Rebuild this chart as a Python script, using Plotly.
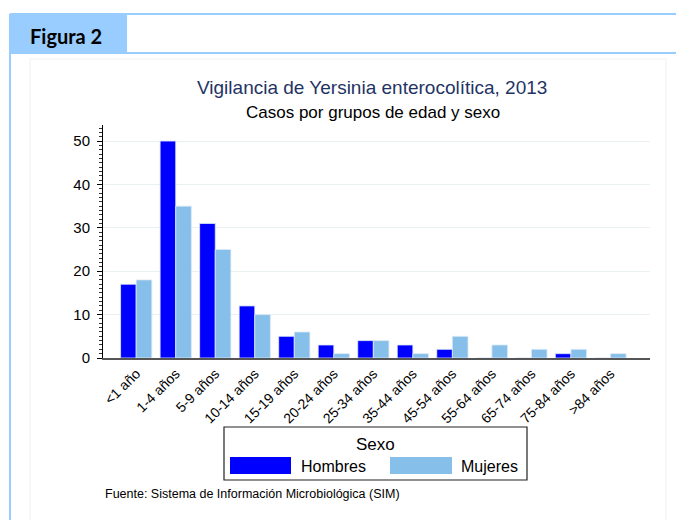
import plotly.graph_objects as go

categorias = ["<1 año", "1-4 años", "5-9 años", "10-14 años", "15-19 años", "20-24 años",
              "25-34 años", "35-44 años", "45-54 años", "55-64 años", "65-74 años",
              "75-84 años", ">84 años"]
hombres = [17, 50, 31, 12, 5, 3, 4, 3, 2, 0, 0, 1, 0]
mujeres = [18, 35, 25, 10, 6, 1, 4, 1, 5, 3, 2, 2, 1]
y_ticks = [0, 10, 20, 30, 40, 50]

OFF = 8  # default page margin of the html body
W, H = 684 - OFF, 520 - OFF
L, T = 103 - OFF, 125 - OFF
R = W - (650 - OFF)
B = H - (358 - OFF)
PW, PH = W - L - R, H - T - B

def px(x):
    return (x - OFF - L) / PW

def py(y):
    return (H - B - (y - OFF)) / PH

C_H = "#0000FF"
C_M = "#86BFE9"
FONT = "Liberation Sans, Arial, sans-serif"

fig = go.Figure()
fig.add_trace(go.Bar(x=categorias, y=hombres, name="Hombres",
                     marker=dict(color=C_H, line=dict(color="#DDE8F5", width=0.8))))
fig.add_trace(go.Bar(x=categorias, y=mujeres, name="Mujeres",
                     marker=dict(color=C_M, line=dict(color="#DDE8F5", width=0.8))))

shapes = []
annotations = []
blue = "#99CCFF"
shapes.append(dict(type="rect", xref="paper", yref="paper", x0=px(10), x1=px(127), y0=py(53), y1=py(14),
                   fillcolor=blue, line=dict(width=0), layer="below"))
shapes.append(dict(type="line", xref="paper", yref="paper", x0=px(10), x1=px(690), y0=py(14), y1=py(14),
                   line=dict(color=blue, width=2)))
shapes.append(dict(type="line", xref="paper", yref="paper", x0=px(10), x1=px(690), y0=py(53), y1=py(53),
                   line=dict(color=blue, width=2)))
shapes.append(dict(type="line", xref="paper", yref="paper", x0=px(10), x1=px(10), y0=py(14), y1=py(525),
                   line=dict(color=blue, width=2)))
shapes.append(dict(type="rect", xref="paper", yref="paper", x0=px(30), x1=px(666), y0=py(525), y1=py(59),
                   fillcolor="rgba(0,0,0,0)", line=dict(color="#F0F0F0", width=1), layer="below"))
annotations.append(dict(text="<b>Figura 2</b>", xref="paper", yref="paper", x=px(66), y=py(36),
                        showarrow=False, xanchor="center", yanchor="middle",
                        font=dict(family="Lato, Open Sans, sans-serif", size=20, color="black")))
annotations.append(dict(text="Vigilancia de Yersinia enterocolítica, 2013", xref="paper", yref="paper",
                        x=px(372), y=py(88), showarrow=False, xanchor="center", yanchor="middle",
                        font=dict(family=FONT, size=19, color="#1F3464")))
annotations.append(dict(text="Casos por grupos de edad y sexo", xref="paper", yref="paper",
                        x=px(373), y=py(112), showarrow=False, xanchor="center", yanchor="middle",
                        font=dict(family=FONT, size=17, color="black")))
shapes.append(dict(type="rect", xref="paper", yref="paper", x0=px(224), x1=px(527), y0=py(480), y1=py(427),
                   fillcolor="white", line=dict(color="#222222", width=1.2)))
annotations.append(dict(text="Sexo", xref="paper", yref="paper", x=px(375), y=py(444), showarrow=False,
                        xanchor="center", yanchor="middle", font=dict(family=FONT, size=17, color="black")))
shapes.append(dict(type="rect", xref="paper", yref="paper", x0=px(230), x1=px(291), y0=py(474), y1=py(457),
                   fillcolor=C_H, line=dict(width=0)))
annotations.append(dict(text="Hombres", xref="paper", yref="paper", x=px(299), y=py(466), showarrow=False,
                        xanchor="left", yanchor="middle", font=dict(family=FONT, size=16, color="black")))
shapes.append(dict(type="rect", xref="paper", yref="paper", x0=px(390), x1=px(452), y0=py(474), y1=py(457),
                   fillcolor=C_M, line=dict(width=0)))
annotations.append(dict(text="Mujeres", xref="paper", yref="paper", x=px(459), y=py(466), showarrow=False,
                        xanchor="left", yanchor="middle", font=dict(family=FONT, size=16, color="black")))
annotations.append(dict(text="Fuente: Sistema de Información Microbiológica (SIM)", xref="paper", yref="paper",
                        x=px(103), y=py(494), showarrow=False, xanchor="left", yanchor="middle",
                        font=dict(family=FONT, size=12.5, color="black")))

fig.update_layout(
    width=W, height=H, margin=dict(l=L, r=R, t=T, b=B, pad=0),
    paper_bgcolor="white", plot_bgcolor="white",
    barmode="group", bargap=0.21, bargroupgap=0,
    showlegend=False,
    font=dict(family=FONT, size=14, color="black"),
    shapes=shapes, annotations=annotations,
    xaxis=dict(range=[-0.84, 13.0], tickangle=-45, showline=True, linecolor="#555555", linewidth=2,
               ticks="", showgrid=False, tickfont=dict(size=14), fixedrange=True),
    yaxis=dict(range=[0, 53.7], tickvals=y_ticks, showline=True, linecolor="black", linewidth=1,
               ticks="outside", ticklen=5, tickcolor="black", showgrid=True, gridcolor="#E8F0F2",
               zeroline=False, tickfont=dict(size=15), ticklabelstandoff=4,
               minor=dict(dtick=1, ticks="outside", ticklen=3, tickcolor="#333333", showgrid=False)),
)

fig.write_html("out.html")
